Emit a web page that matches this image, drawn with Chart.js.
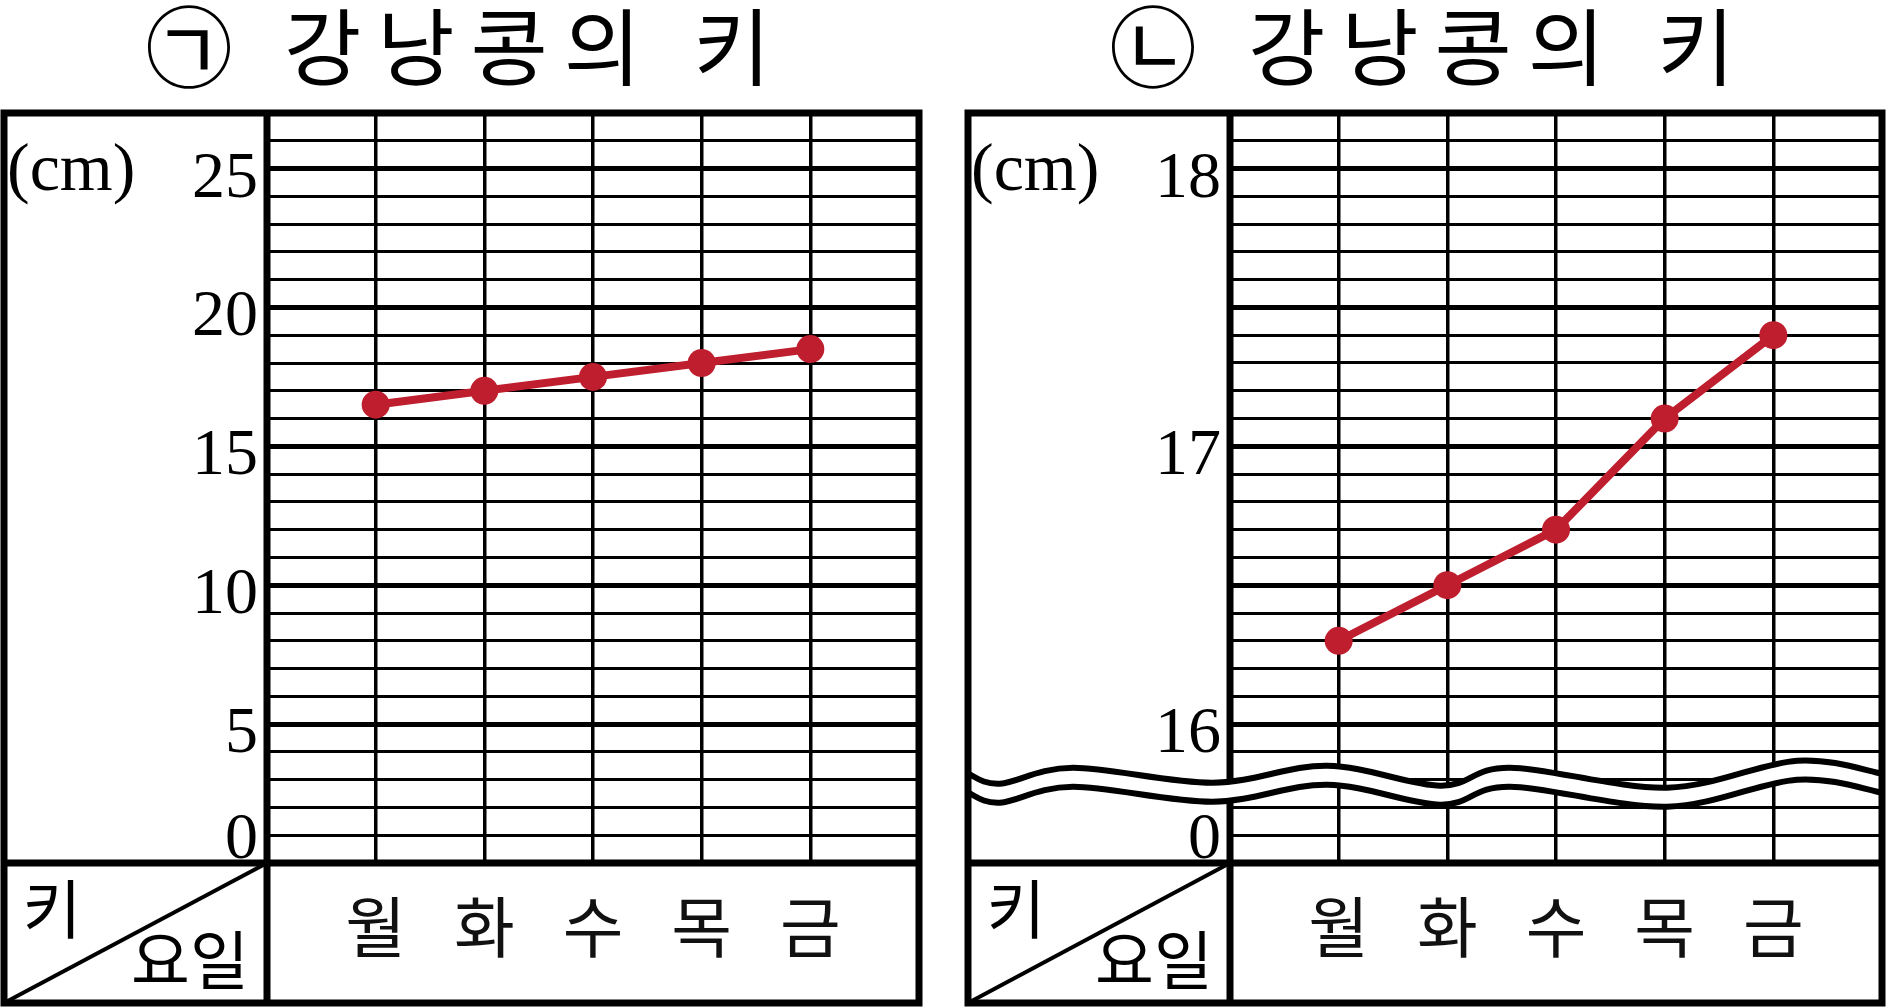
<!DOCTYPE html>
<html>
<head>
<meta charset="utf-8">
<script src="https://cdn.jsdelivr.net/npm/chart.js@4.4.1/dist/chart.umd.min.js"></script>
<style>
  body { margin: 0; background: #fff; width: 1887px; height: 1008px; overflow: hidden; position: relative; }
  canvas { position: absolute; top: 0; }
</style>
</head>
<body>
<canvas id="chartA" width="926" height="1008" style="left:0px"></canvas>
<canvas id="chartB" width="925" height="1008" style="left:962px"></canvas>
<script>
// data
const days = ['월', '화', '수', '목', '금'];
const heightsA = [16.5, 17, 17.5, 18, 18.5];
const heightsB = [16.3, 16.5, 16.7, 17.1, 17.4];
const tickValuesA = [0, 5, 10, 15, 20, 25];
const tickLabelsA = ['0', '5', '10', '15', '20', '25'];
const tickValuesB = [15.5, 16, 17, 18];
const tickLabelsB = ['0', '16', '17', '18'];
const titleMarks = ['㉠', '㉡'];
const titleText = '강낭콩의';
const titleLast = '키';
const unitLabel = '(cm)';
const cornerTop = '키';
const cornerBottom = '요일';

const RED = '#BE1E2D';
const SERIF = '"Liberation Serif", "DejaVu Serif", serif';
const KR = '"Noto Sans CJK KR", "Noto Sans", sans-serif';

// break mark (wavy double line) on the second graph
const waveX = [0, 0.035, 0.115, 0.268, 0.393, 0.517, 0.593, 0.765, 0.907, 1];
const waveY = [-6, 4, -12, 3, -14, 6, -12, 8, -19, -6];

function curve(ctx, pts, move) {
    if (move) ctx.moveTo(pts[0][0], pts[0][1]);
    else ctx.lineTo(pts[0][0], pts[0][1]);
    for (let i = 0; i < pts.length - 1; i++) {
        const p0 = pts[i - 1] || pts[i], p1 = pts[i], p2 = pts[i + 1], p3 = pts[i + 2] || p2;
        ctx.bezierCurveTo(
            p1[0] + (p2[0] - p0[0]) / 6, p1[1] + (p2[1] - p0[1]) / 6,
            p2[0] - (p3[0] - p1[0]) / 6, p2[1] - (p3[1] - p1[1]) / 6,
            p2[0], p2[1]);
    }
}

function panelPlugin(cfg) {
    return {
        id: 'panel',
        afterDraw(chart) {
            const ctx = chart.ctx;
            const area = chart.chartArea;
            const y = chart.scales.y;
            const left = cfg.boxLeft, right = area.right, top = area.top;
            const bottom = area.bottom + cfg.rowHeight;
            ctx.save();
            ctx.strokeStyle = '#000';
            ctx.fillStyle = '#000';

            // dividers
            ctx.lineWidth = 7;
            ctx.beginPath();
            ctx.moveTo(area.left, top); ctx.lineTo(area.left, bottom);
            ctx.moveTo(left, area.bottom); ctx.lineTo(right, area.bottom);
            ctx.stroke();
            ctx.lineWidth = 4;
            ctx.beginPath();
            ctx.moveTo(left, bottom); ctx.lineTo(area.left, area.bottom);
            ctx.stroke();

            if (cfg.waveValue !== undefined) {
                const base = y.getPixelForValue(cfg.waveValue);
                const upper = waveX.map((f, i) => [left + f * (right - left), base + waveY[i]]);
                const lower = upper.map(p => [p[0], p[1] + 19]);
                ctx.fillStyle = '#fff';
                ctx.beginPath();
                curve(ctx, upper, true);
                curve(ctx, lower.slice().reverse(), false);
                ctx.closePath();
                ctx.fill();
                ctx.lineWidth = 6;
                ctx.beginPath(); curve(ctx, upper, true); ctx.stroke();
                ctx.beginPath(); curve(ctx, lower, true); ctx.stroke();
                ctx.fillStyle = '#000';
            }

            ctx.lineWidth = 7;
            ctx.strokeRect(left, top, right - left, bottom - top);

            // title
            ctx.textBaseline = 'middle';
            ctx.textAlign = 'center';
            ctx.font = '88px ' + KR;
            ctx.fillText(cfg.mark, left + 185, 47);
            ctx.font = '84px ' + KR;
            ctx.letterSpacing = '16px';
            ctx.textAlign = 'left';
            ctx.fillText(titleText, left + 280, 47);
            ctx.letterSpacing = '0px';
            ctx.textAlign = 'center';
            ctx.fillText(titleLast, left + 728, 47);

            // y labels
            ctx.font = '66px ' + SERIF;
            ctx.textAlign = 'right';
            ctx.textBaseline = 'alphabetic';
            cfg.tickValues.forEach((v, i) => {
                const py = y.getPixelForValue(v);
                const off = v === y.min ? -5 : 28;
                ctx.fillText(cfg.tickLabels[i], area.left - 9, py + off);
            });
            ctx.font = '68px ' + SERIF;
            ctx.textAlign = 'left';
            ctx.fillText(unitLabel, left + 3, top + 77);

            // corner cell
            ctx.font = '64px ' + KR;
            ctx.textAlign = 'center';
            ctx.textBaseline = 'middle';
            ctx.fillText(cornerTop, left + 48, area.bottom + 46);
            ctx.fillText(cornerBottom, left + 186, area.bottom + 97);
            ctx.restore();
        }
    };
}

function makeChart(id, values, yMin, yMax, yStep, cfg) {
    return new Chart(document.getElementById(id), {
        type: 'line',
        data: {
            datasets: [{
                data: values.map((v, i) => ({ x: i + 1, y: v })),
                borderColor: RED,
                backgroundColor: RED,
                borderWidth: 8,
                pointRadius: 14,
                pointHoverRadius: 14,
                pointBorderWidth: 0,
                pointBackgroundColor: RED,
                tension: 0
            }]
        },
        options: {
            responsive: false,
            animation: false,
            devicePixelRatio: 1,
            layout: { autoPadding: false, padding: { top: 113, left: cfg.boxLeft, right: cfg.padRight, bottom: 5 } },
            plugins: { legend: { display: false }, tooltip: { enabled: false } },
            scales: {
                x: {
                    type: 'linear', min: 0, max: 6,
                    afterFit: s => { s.height = cfg.rowHeight; s.paddingLeft = 0; s.paddingRight = 0; },
                    border: { display: false },
                    grid: { color: '#000', lineWidth: 3.5, drawTicks: false },
                    ticks: {
                        stepSize: 1, autoSkip: false, maxRotation: 0, padding: 24,
                        color: '#111', font: { family: KR, size: 66 },
                        callback: v => days[v - 1] || ''
                    }
                },
                y: {
                    type: 'linear', min: yMin, max: yMax,
                    afterFit: s => { s.width = cfg.axisWidth; },
                    border: { display: false },
                    grid: { color: '#000', lineWidth: c => c.index % 5 === 0 ? 5 : 3, drawTicks: false },
                    ticks: { display: false, stepSize: yStep, maxTicksLimit: 100 }
                }
            }
        },
        plugins: [panelPlugin(cfg)]
    });
}

makeChart('chartA', heightsA, 0, 27, 1, {
    boxLeft: 4, axisWidth: 263, padRight: 7, rowHeight: 140,
    mark: titleMarks[0], tickValues: tickValuesA, tickLabels: tickLabelsA
});
makeChart('chartB', heightsB, 15.5, 18.2, 0.1, {
    boxLeft: 6, axisWidth: 262, padRight: 5, rowHeight: 140,
    mark: titleMarks[1], tickValues: tickValuesB, tickLabels: tickLabelsB, waveValue: 15.8
});
</script>
</body>
</html>
